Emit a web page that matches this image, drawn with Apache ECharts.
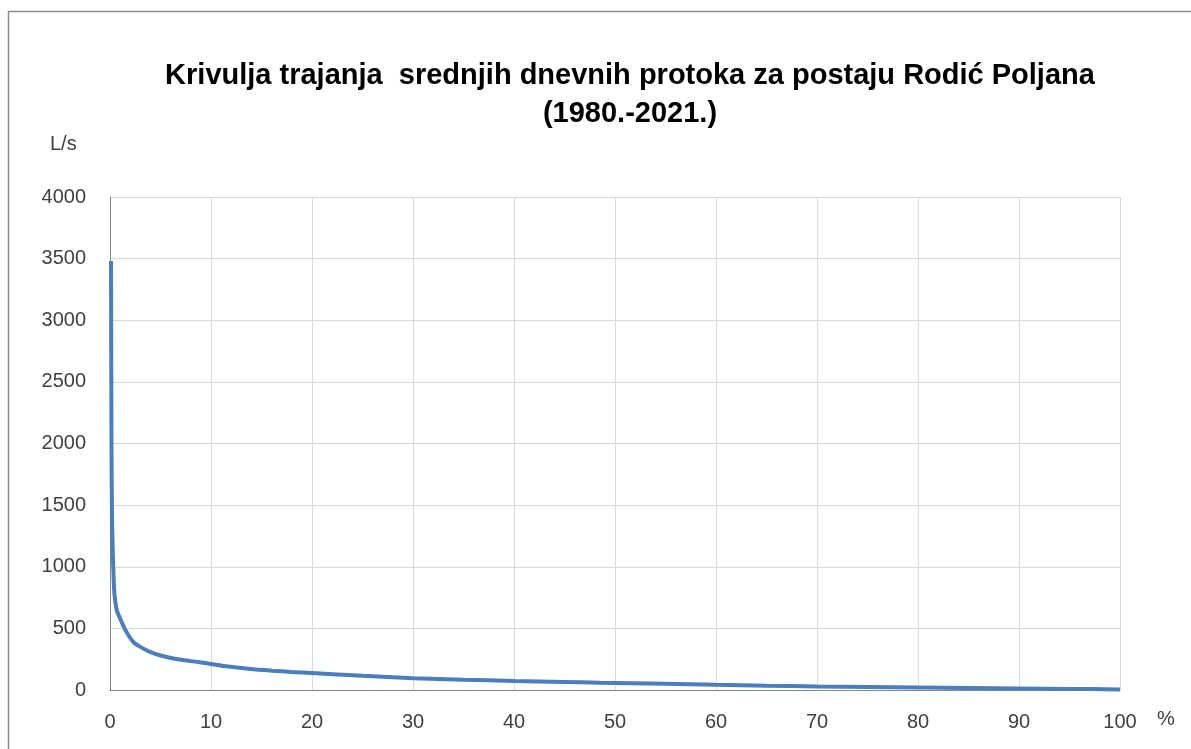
<!DOCTYPE html>
<html>
<head>
<meta charset="utf-8">
<script src="https://cdn.jsdelivr.net/npm/echarts@6/dist/echarts.min.js"></script>
<style>
  html, body { margin: 0; padding: 0; background: #fff; }
  #chart { width: 1191px; height: 749px; }
</style>
</head>
<body>
<div id="chart"></div>
<script>
"use strict";

// trajanje (%) i srednji dnevni protok (L/s), ocitano sa slike
var percent = [0.1, 0.15, 0.2, 0.3, 0.4, 0.5, 0.7, 1.0, 1.5, 2.3, 3, 4, 5.6, 7.2, 8.9, 10, 11.7, 13.9, 16, 18, 20, 25, 30, 35, 40, 45, 48.5, 55, 60, 65, 70, 75, 80, 85, 90, 95, 100];
var flow = [3480, 2000, 1400, 1055, 830, 730, 640, 580, 490, 390, 350, 308, 268, 243, 225, 211, 190, 170, 157, 147, 138, 115, 96, 84, 74, 65, 59, 50, 42, 35, 29, 25, 21, 17, 13, 9, 5];

var yTicks = [0, 500, 1000, 1500, 2000, 2500, 3000, 3500, 4000];
var xTicks = [0, 10, 20, 30, 40, 50, 60, 70, 80, 90, 100];

var font = '"Liberation Sans", Arial, sans-serif';

var points = percent.map(function (p, i) { return [p, flow[i]]; });

var myChart = echarts.init(document.getElementById('chart'));

var option = {
    backgroundColor: '#ffffff',
    animation: false,
    grid: { left: 110, right: 71, top: 197, bottom: 59 },
    xAxis: {
        type: 'value',
        min: xTicks[0],
        max: xTicks[xTicks.length - 1],
        interval: 10,
        axisLine: { show: true, lineStyle: { color: '#868686', width: 1 } },
        axisTick: { show: false },
        axisLabel: { color: '#404040', fontSize: 20, fontFamily: font, margin: 22 },
        splitLine: { show: true, lineStyle: { color: '#d9d9d9', width: 1 } }
    },
    yAxis: {
        type: 'value',
        min: yTicks[0],
        max: yTicks[yTicks.length - 1],
        interval: 500,
        axisLine: { show: true, lineStyle: { color: '#868686', width: 1 } },
        axisTick: { show: false },
        axisLabel: {
            color: '#404040', fontSize: 20, fontFamily: font, margin: 24,
            formatter: function (v) { return String(v); }
        },
        splitLine: { show: true, lineStyle: { color: '#d9d9d9', width: 1 } }
    },
    graphic: [
        {
            type: 'rect',
            shape: { x: 8.5, y: 11.5, width: 1300, height: 900 },
            style: { fill: 'none', stroke: '#8c8c8c', lineWidth: 1.5 },
            silent: true
        },
        {
            type: 'text', x: 630, y: 76,
            style: {
                text: 'Krivulja trajanja  srednjih dnevnih protoka za postaju Rodić Poljana',
                font: 'bold 29px ' + font, fill: '#000',
                textAlign: 'center', textVerticalAlign: 'middle'
            }
        },
        {
            type: 'text', x: 630, y: 114,
            style: {
                text: '(1980.-2021.)',
                font: 'bold 29px ' + font, fill: '#000',
                textAlign: 'center', textVerticalAlign: 'middle'
            }
        },
        {
            type: 'text', left: 50, top: 134,
            style: { text: 'L/s', font: '20px ' + font, fill: '#404040' }
        },
        {
            type: 'text', left: 1157, top: 709,
            style: { text: '%', font: '20px ' + font, fill: '#404040' }
        }
    ],
    series: [{
        type: 'line',
        data: points,
        showSymbol: false,
        smooth: 0.3,
        lineStyle: { color: '#4A7EBE', width: 4 },
        itemStyle: { color: '#4A7EBE' }
    }]
};

myChart.setOption(option);
</script>
</body>
</html>
